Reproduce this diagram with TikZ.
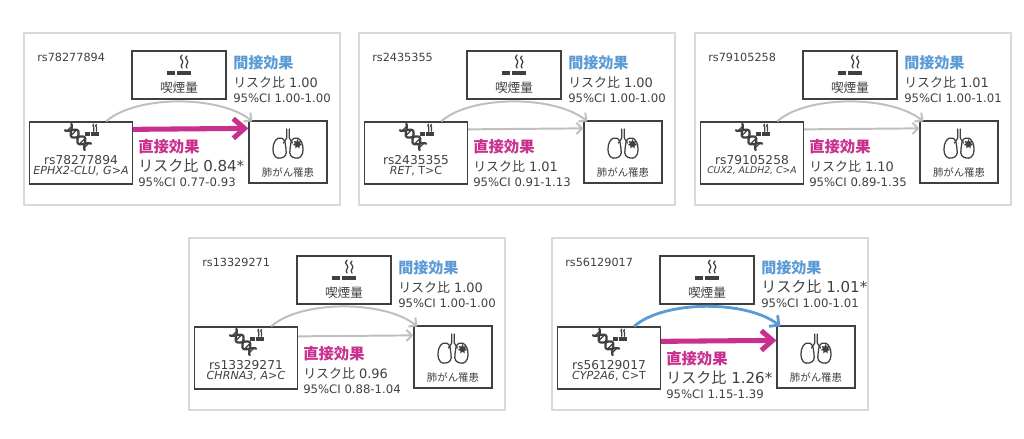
\documentclass[tikz,border=0pt]{standalone}
\usepackage{fontspec}
\setmainfont{DejaVu Sans}
\newfontfamily\cjk{Noto Sans CJK JP}
\usetikzlibrary{arrows.meta,calc,shapes.geometric}

\definecolor{textgray}{HTML}{404040}
\definecolor{framegray}{HTML}{D9D9D9}
\definecolor{boxgray}{HTML}{404040}
\definecolor{arrowgray}{HTML}{BFBFBF}
\definecolor{directpink}{HTML}{C9308E}
\definecolor{indirectblue}{HTML}{5B9BD5}

\tikzset{
  panelframe/.style={draw=framegray, line width=1.1pt},
  factorbox/.style={draw=boxgray, line width=0.9pt, fill=white, inner sep=0pt},
  smokebox/.style={factorbox, minimum width=2.35cm, minimum height=1.2cm},
  snpbox/.style={factorbox, minimum width=2.575cm, minimum height=1.55cm},
  lungbox/.style={factorbox, minimum width=1.95cm, minimum height=1.55cm},
  plain/.style={text=textgray, inner sep=0pt},
  grayarrow/.style={draw=arrowgray, line width=1.4pt, -{Straight Barb[length=4pt,width=8pt]}},
  bluearrow/.style={draw=indirectblue, line width=2pt, -{Straight Barb[length=5pt,width=10pt]}},
  pinkarrow/.style={draw=directpink, line width=3.6pt, -{Straight Barb[length=8pt,width=14pt]}},
  icon/.style={draw=textgray, line width=0.8pt, line cap=round, line join=round},
  % cigarette with smoke
  cigarette/.pic={
    \draw[icon, line width=2.2pt, line cap=butt] (-12,0) -- (-4,0) (-2,0) -- (12,0);
    \draw[icon, line width=0.9pt] (3,-5) .. controls (0,-8) and (6,-10) .. (3,-13)
      .. controls (1,-15) .. (3,-18)
      (8,-5) .. controls (5,-8) and (11,-10) .. (8,-13)
      .. controls (6,-15) .. (8,-17);
  },
  % double helix
  helix/.pic={
    \draw[icon, line width=1.6pt]
      plot[domain=-14:14, samples=40] ({\x*0.71 - 4.5*sin(\x*19)*0.71}, {\x*0.71 + 4.5*sin(\x*19)*0.71})
      plot[domain=-14:14, samples=40] ({\x*0.71 + 4.5*sin(\x*19)*0.71}, {\x*0.71 - 4.5*sin(\x*19)*0.71});
    \foreach \r in {-12,-6,6,12}
      \draw[icon] ({\r*0.71 - 4.5*sin(\r*19)*0.71}, {\r*0.71 + 4.5*sin(\r*19)*0.71})
        -- ({\r*0.71 + 4.5*sin(\r*19)*0.71}, {\r*0.71 - 4.5*sin(\r*19)*0.71});
  },
  % lungs with tumour
  lungs/.pic={
    \draw[icon, line width=0.9pt] (-1.3,-23) -- (-1.3,-14) -- (-4.5,-9)
      (1.3,-23) -- (1.3,-14) -- (4.5,-9);
    \draw[icon, line width=0.9pt] (-3,-10) .. controls (-6,-18) and (-15,-14) .. (-15,-3)
      .. controls (-15,5) and (-11,7) .. (-7,6)
      .. controls (-3,5) and (-1,3) .. (-2,-3) -- cycle;
    \draw[icon, line width=0.9pt] (3,-10) .. controls (6,-18) and (15,-14) .. (15,-3)
      .. controls (15,5) and (11,7) .. (7,6)
      .. controls (3,5) and (1,3) .. (2,-3) -- cycle;
    \node[star, star points=7, star point ratio=1.8, fill=textgray, inner sep=0pt,
      minimum size=0.24cm] (tumour) at (9.5,-8) {};
  },
}

\begin{document}
\begin{tikzpicture}[x=0.025cm, y=-0.025cm]
  \useasboundingbox (0,0) rectangle (1024,439);

  \foreach \i/\ox/\oy/\rs/\gene/\gsize/\irr/\ici/\isize/\iarr/\drr/\dci/\dsize/\darr/\dy in {
    1/24/33/rs78277894/{\textit{EPHX2-CLU, G>A}}/7.9/1.00/1.00-1.00/9.2/grayarrow/0.84*/0.77-0.93/10.7/pinkarrow/0,
    2/359/33/rs2435355/{\textit{RET}, T>C}/7.9/1.00/1.00-1.00/9.2/grayarrow/1.01/0.91-1.13/9.2/grayarrow/0,
    3/695/33/rs79105258/{\textit{CUX2, ALDH2, C>A}}/6.6/1.01/1.00-1.01/9.2/grayarrow/1.10/0.89-1.35/9.2/grayarrow/0,
    4/189/238/rs13329271/{\textit{CHRNA3, A>C}}/7.9/1.00/1.00-1.00/9.2/grayarrow/0.96/0.88-1.04/9.2/grayarrow/2,
    5/552/238/rs56129017/{\textit{CYP2A6}, C>T}/7.9/1.01*/1.00-1.01/10.7/bluearrow/1.26*/1.15-1.39/10.7/pinkarrow/7}
  {
    \begin{scope}[shift={(\ox,\oy)}]
      \draw[panelframe] (0,0) rectangle (316,172);
      \node[plain, anchor=west, font=\fontsize{8}{10}\selectfont] (rs-\i) at (13,24) {\rs};

      % the three factors
      \node[smokebox] (smoke-\i) at (155,42) {};
      \node[snpbox] (snp-\i) at (57,120) {};
      \node[lungbox] (lung-\i) at (264,119) {};

      \pic at ($(smoke-\i.center)+(0,-2)$) {cigarette};
      \node[plain, font=\cjk\fontsize{9}{10}\selectfont] (smokename-\i)
        at ($(smoke-\i.center)+(0,13)$) {喫煙量};
      \pic[scale=0.55] at ($(snp-\i.center)+(11,-19)$) {cigarette};
      \pic at ($(snp-\i.center)+(-3,-16)$) {helix};
      \node[plain, font=\fontsize{8.7}{10}\selectfont] (snpid-\i)
        at ($(snp-\i.center)+(0,7)$) {\rs};
      \node[plain, font=\fontsize{\gsize}{10}\selectfont] (gene-\i)
        at ($(snp-\i.center)+(0,18)$) {\gene};
      \pic at (lung-\i.center) {lungs};
      \node[plain, font=\cjk\fontsize{7.4}{9}\selectfont] (lungname-\i)
        at ($(lung-\i.center)+(0,21)$) {肺がん罹患};

      % indirect effect
      \node[plain, anchor=west, text=indirectblue, font=\cjk\bfseries\fontsize{10.7}{12}\selectfont]
        (ihead-\i) at (209,30) {間接効果};
      \node[plain, anchor=west, font=\fontsize{\isize}{12}\selectfont] (irr-\i) at (209,49)
        {{\cjk リスク比} \irr};
      \node[plain, anchor=west, font=\fontsize{8.3}{10}\selectfont] (ici-\i) at (209,65) {95\%CI \ici};

      % direct effect
      \node[plain, anchor=west, text=directpink, font=\cjk\bfseries\fontsize{10.9}{12}\selectfont]
        (dhead-\i) at (114,114+\dy) {直接効果};
      \node[plain, anchor=west, font=\fontsize{\dsize}{12}\selectfont] (drr-\i) at (114,133+\dy)
        {{\cjk リスク比} \drr};
      \node[plain, anchor=west, font=\fontsize{8.3}{10}\selectfont] (dci-\i) at (114,149+\dy) {95\%CI \dci};

      \draw[\darr] ($(snp-\i.north east)+(0,8+\dy)$) -- ($(lung-\i.north west)+(0,8+\dy)$);
      \draw[\iarr] ($(snp-\i.north east)+(-27,0)$) .. controls (112,62) and (195,62)
        .. ($(lung-\i.north west)+(4,1)$);
    \end{scope}
  }
\end{tikzpicture}
\end{document}
